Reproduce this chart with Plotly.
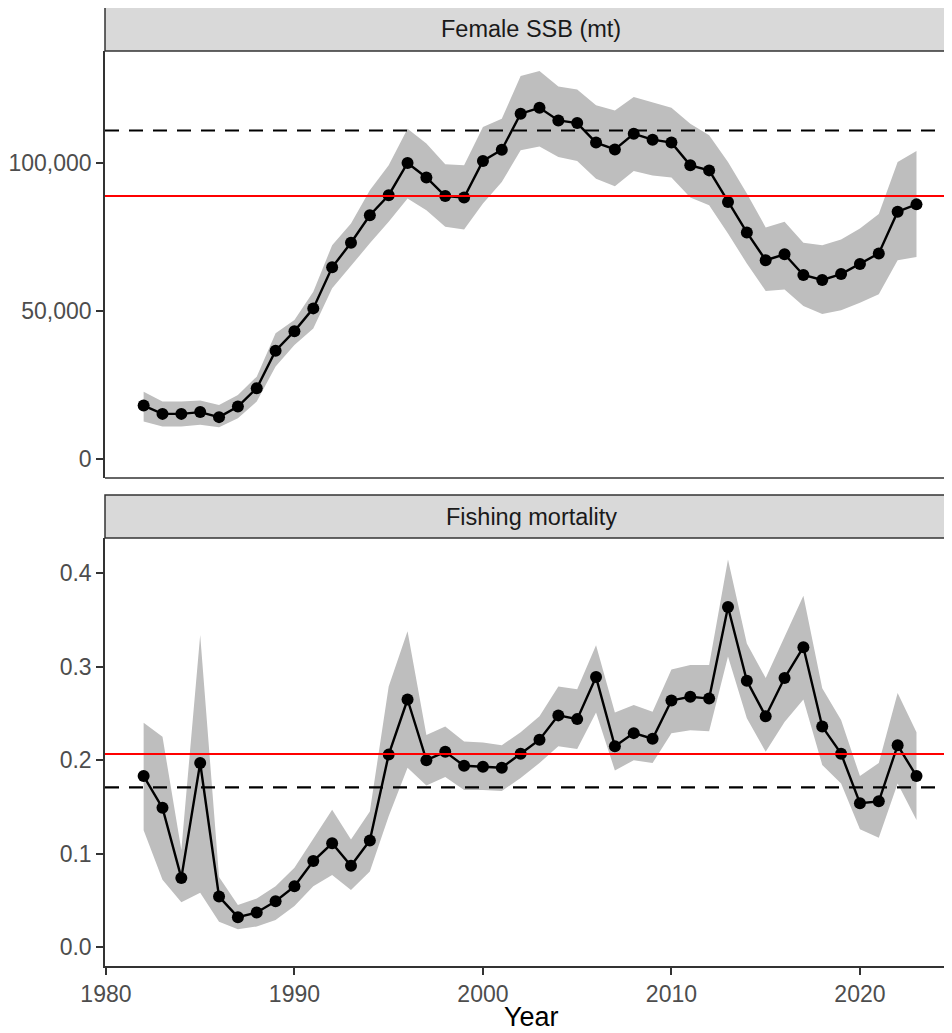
import plotly.graph_objects as go

years = list(range(1982, 2024))

ssb = [18.0, 15.2, 15.2, 15.8, 14.1, 17.7, 23.9, 36.6, 43.2, 50.9,
       64.8, 73.1, 82.4, 89.2, 100.1, 95.2, 88.9, 88.4, 100.8, 104.6,
       116.8, 118.8, 114.5, 113.6, 107.0, 104.7, 110.0, 108.0, 107.0, 99.3,
       97.6, 86.9, 76.6, 67.2, 69.2, 62.2, 60.5, 62.5, 65.9, 69.5,
       83.6, 86.1]
ssb_hi = [22.7, 19.4, 19.4, 19.7, 18.2, 21.6, 27.8, 42.5, 47.0, 56.5,
          72.3, 79.6, 90.9, 99.3, 111.7, 106.7, 99.7, 99.3, 112.3, 115.1,
          129.5, 131.2, 126.0, 125.0, 119.6, 117.9, 122.4, 120.7, 118.8, 113.4,
          109.5, 100.4, 89.8, 78.3, 80.2, 73.1, 72.3, 74.2, 77.9, 82.8,
          100.4, 104.2]
ssb_lo = [12.6, 10.9, 10.9, 11.5, 10.7, 13.7, 19.4, 31.2, 38.5, 44.1,
          57.7, 65.5, 72.9, 80.2, 88.1, 84.1, 78.5, 77.6, 86.4, 93.7,
          104.4, 105.7, 102.1, 100.8, 94.8, 92.2, 97.4, 95.9, 95.2, 88.4,
          85.8, 76.2, 66.1, 56.8, 57.3, 51.7, 49.0, 50.3, 52.8, 55.7,
          67.2, 68.3]
ssb = [v * 1000 for v in ssb]
ssb_hi = [v * 1000 for v in ssb_hi]
ssb_lo = [v * 1000 for v in ssb_lo]

fmort = [0.183, 0.149, 0.074, 0.197, 0.054, 0.032, 0.037, 0.049, 0.065, 0.092,
         0.111, 0.087, 0.114, 0.206, 0.265, 0.200, 0.209, 0.194, 0.193, 0.192,
         0.207, 0.222, 0.248, 0.244, 0.289, 0.215, 0.229, 0.223, 0.264, 0.268,
         0.266, 0.364, 0.285, 0.247, 0.288, 0.321, 0.236, 0.207, 0.154, 0.156,
         0.216, 0.183]
f_hi = [0.240, 0.225, 0.104, 0.334, 0.075, 0.045, 0.052, 0.065, 0.085, 0.116,
        0.147, 0.115, 0.145, 0.279, 0.338, 0.227, 0.236, 0.220, 0.219, 0.216,
        0.230, 0.247, 0.279, 0.276, 0.323, 0.251, 0.259, 0.252, 0.297, 0.302,
        0.302, 0.415, 0.325, 0.288, 0.332, 0.376, 0.277, 0.243, 0.183, 0.197,
        0.272, 0.230]
f_lo = [0.125, 0.072, 0.048, 0.058, 0.027, 0.019, 0.022, 0.029, 0.044, 0.065,
        0.077, 0.061, 0.081, 0.140, 0.192, 0.173, 0.182, 0.168, 0.168, 0.167,
        0.181, 0.197, 0.215, 0.212, 0.251, 0.189, 0.200, 0.197, 0.229, 0.232,
        0.231, 0.311, 0.245, 0.209, 0.241, 0.265, 0.195, 0.175, 0.126, 0.117,
        0.175, 0.136]

ssb_ref_red = 88900
ssb_ref_dash = 111100
f_ref_red = 0.2066
f_ref_dash = 0.171

panel_titles = ["Female SSB (mt)", "Fishing mortality"]
x_ticks = [1980, 1990, 2000, 2010, 2020]
ssb_ticks = [0, 50000, 100000]
f_ticks = [0.0, 0.1, 0.2, 0.3, 0.4]

OFF = 8  # page body margin offset
W, H = 952 - OFF, 1033 - OFF
L = 105 - OFF


def py(p):
    return 1 - (p - OFF) / H


top_dom = [py(478), py(51)]
bot_dom = [py(966), py(538)]
top_strip = [py(51), py(7)]
bot_strip = [py(538), py(495)]

ribbon = "#BEBEBE"
axis_col = "#333333"
FAM = "Liberation Sans, Arial, sans-serif"
tick_font = dict(family=FAM, size=23, color="#4D4D4D")

fig = go.Figure()


def add_panel(yvals, lo, hi, xa, ya):
    fig.add_trace(go.Scatter(x=years, y=hi, mode="lines", line=dict(width=0),
                             hoverinfo="skip", showlegend=False, xaxis=xa, yaxis=ya))
    fig.add_trace(go.Scatter(x=years, y=lo, mode="lines", line=dict(width=0),
                             fill="tonexty", fillcolor=ribbon,
                             hoverinfo="skip", showlegend=False, xaxis=xa, yaxis=ya))
    fig.add_trace(go.Scatter(x=years, y=yvals, mode="lines+markers",
                             line=dict(color="black", width=2.4),
                             marker=dict(color="black", size=12),
                             showlegend=False, xaxis=xa, yaxis=ya))


add_panel(ssb, ssb_lo, ssb_hi, "x2", "y")
add_panel(fmort, f_lo, f_hi, "x", "y2")

xr = [1979.95, 1979.95 + (W - L) / 18.85]

fig.update_layout(
    width=W, height=H,
    margin=dict(l=L, r=0, t=0, b=0),
    paper_bgcolor="white", plot_bgcolor="white",
    xaxis=dict(domain=[0, 1], anchor="y2", range=xr, tickvals=x_ticks,
               ticks="outside", ticklen=7, tickwidth=1.5, tickcolor=axis_col,
               showline=True, linecolor=axis_col, linewidth=1.5,
               showgrid=False, zeroline=False, tickfont=tick_font),
    xaxis2=dict(domain=[0, 1], anchor="y", range=xr, matches="x",
                showticklabels=False, ticks="", showline=False,
                showgrid=False, zeroline=False),
    yaxis=dict(domain=top_dom, anchor="x2", range=[-6500, 138000],
               tickvals=ssb_ticks, tickformat=",d",
               ticks="outside", ticklen=7, tickwidth=1.5, tickcolor=axis_col,
               showline=True, linecolor=axis_col, linewidth=1.5,
               showgrid=False, zeroline=False, tickfont=tick_font),
    yaxis2=dict(domain=bot_dom, anchor="x", range=[-0.0203, 0.4379],
                tickvals=f_ticks, tickformat=".1f",
                ticks="outside", ticklen=7, tickwidth=1.5, tickcolor=axis_col,
                showline=True, linecolor=axis_col, linewidth=1.5,
                showgrid=False, zeroline=False, tickfont=tick_font),
)

shapes = []
for s in (top_strip, bot_strip):
    shapes.append(dict(type="rect", xref="paper", yref="paper", x0=0, x1=1.02,
                       y0=s[0], y1=s[1], fillcolor="#D9D9D9",
                       line=dict(color=axis_col, width=1.5), layer="above"))
shapes.append(dict(type="line", xref="paper", yref="paper", x0=0, x1=1.02,
                   y0=top_dom[0], y1=top_dom[0], line=dict(color=axis_col, width=1.5),
                   layer="above"))
shapes.append(dict(type="line", xref="paper", yref="y", x0=0, x1=1,
                   y0=ssb_ref_dash, y1=ssb_ref_dash,
                   line=dict(color="black", width=2.2, dash="14px,10px"), layer="above"))
shapes.append(dict(type="line", xref="paper", yref="y", x0=0, x1=1,
                   y0=ssb_ref_red, y1=ssb_ref_red,
                   line=dict(color="#FF0000", width=2), layer="above"))
shapes.append(dict(type="line", xref="paper", yref="y2", x0=0, x1=1,
                   y0=f_ref_dash, y1=f_ref_dash,
                   line=dict(color="black", width=2.2, dash="14px,10px"), layer="above"))
shapes.append(dict(type="line", xref="paper", yref="y2", x0=0, x1=1,
                   y0=f_ref_red, y1=f_ref_red,
                   line=dict(color="#FF0000", width=2), layer="above"))
fig.update_layout(shapes=shapes)

cx = (531 - 105) / (W - L)
strip_font = dict(family=FAM, size=23.5, color="#1A1A1A")
fig.add_annotation(text=panel_titles[0], xref="paper", yref="paper", x=cx,
                   y=(top_strip[0] + top_strip[1]) / 2, showarrow=False,
                   xanchor="center", yanchor="middle", font=strip_font)
fig.add_annotation(text=panel_titles[1], xref="paper", yref="paper", x=cx,
                   y=(bot_strip[0] + bot_strip[1]) / 2, showarrow=False,
                   xanchor="center", yanchor="middle", font=strip_font)
fig.add_annotation(text="Year", xref="paper", yref="paper", x=cx, y=py(1017),
                   showarrow=False, xanchor="center", yanchor="middle",
                   font=dict(family=FAM, size=27, color="black"))

fig.write_html("out.html")
